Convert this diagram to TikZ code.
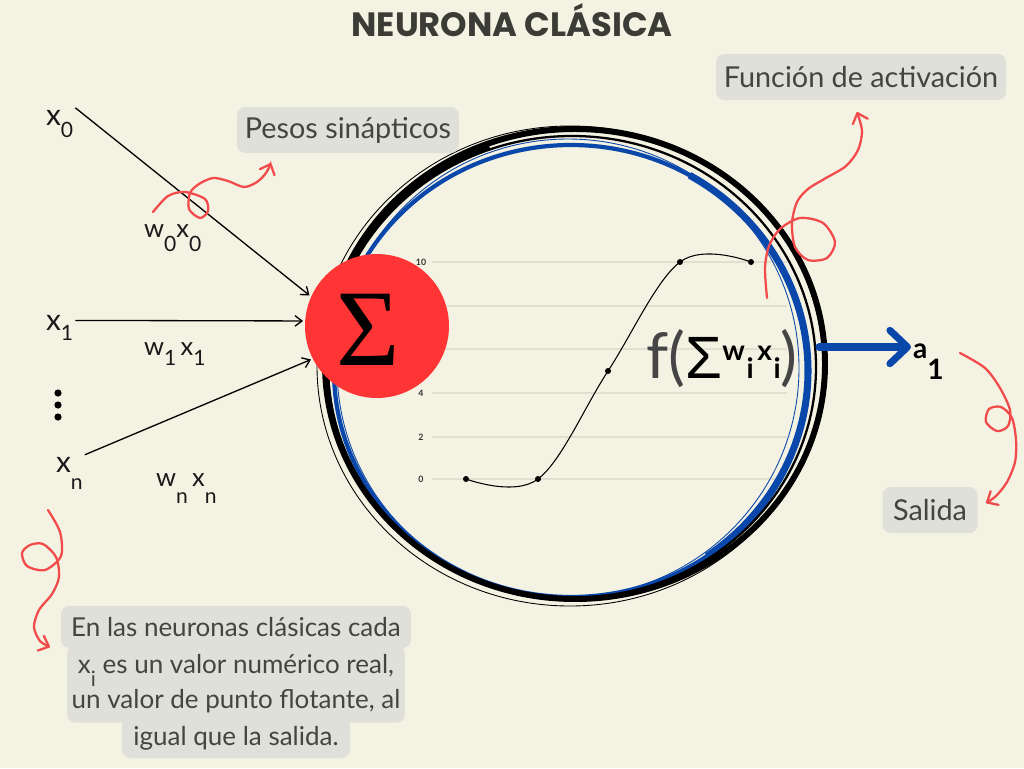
\documentclass[tikz,border=0pt]{standalone}
\usepackage{fontspec}
\setmainfont{Lato}
\newfontfamily\titlefont{Poppins}
\newfontfamily\sigmafont{Liberation Serif}
\newfontfamily\sumfont{Liberation Sans}
\usetikzlibrary{arrows.meta}
\definecolor{paper}{HTML}{F4F3E3}
\definecolor{tagfill}{HTML}{E0E0DA}
\definecolor{tagtext}{HTML}{45453F}
\definecolor{titlec}{HTML}{3C3C36}
\definecolor{squig}{HTML}{F24B4B}
\definecolor{sumred}{HTML}{FF3535}
\definecolor{ringblue}{HTML}{0A47AA}
\definecolor{gridc}{HTML}{E2DFD0}
\definecolor{fgray}{HTML}{454545}
% indice rebajado: base, indice, descenso
\newcommand\sublow[3]{#1\raisebox{-#3}{\fontsize{12}{12}\selectfont #2}}
\tikzset{
  tag/.style={fill=tagfill, rounded corners=0.16cm, text=tagtext, inner sep=0pt,
    font=\fontsize{16.4}{20}\selectfont, minimum height=0.92cm},
  notebox/.style={tag, align=center, font=\fontsize{14.8}{19}\selectfont},
  inarrow/.style={-{Straight Barb[length=4pt,width=6pt]}, line width=0.75pt, shorten >=1pt},
  squiggle/.style={draw=squig, line width=1.3pt, line cap=round,
    -{Straight Barb[round,length=5pt,width=9pt]}},
  gridline/.style={draw=gridc, line width=0.6pt},
  tick/.style={font=\fontsize{5}{5}\selectfont\bfseries, text=black!80},
  inlabel/.style={font=\fontsize{17}{17}\selectfont, text=black!90, inner sep=1pt, anchor=base west},
  wlabel/.style={font=\fontsize{14.5}{14.5}\selectfont, text=black!90, inner sep=1pt, anchor=base west}
}
\begin{document}
\begin{tikzpicture}[x=0.02cm, y=-0.02cm]
  \useasboundingbox[fill=paper] (0,0) rectangle (1024,768);
  % titulo
  \node[font=\titlefont\bfseries\fontsize{19.2}{21}\selectfont, text=titlec] (title) at (512,20) {NEURONA CLÁSICA};

  % grafica de la funcion de activacion
  \foreach \gy in {262,306,349,393,437,479} \draw[gridline] (432,\gy) -- (787,\gy);
  \foreach \gy/\gt in {262/10,393/4,437/2,479/0} \node[tick] at (421,\gy) {\gt};
  \draw[line width=0.6pt] plot[smooth, tension=0.6] coordinates {(466,479) (538,479) (608,371) (680,262) (751,262)};
  \foreach \p in {(466,479),(538,479),(608,371),(680,262),(751,262)} \fill \p circle[radius=3];

  % anillo de la neurona, trazo a mano
  \draw[ringblue, line width=2.4pt] (571,371) ellipse [x radius=237, y radius=226];
  \draw[ringblue, line width=0.5pt] (568,368) ellipse [x radius=231, y radius=229];
  \draw[ringblue, line width=4pt] (571,371) ++(-60:237 and 226) arc [start angle=-60, end angle=55, x radius=237, y radius=226];
  \draw[line width=3.4pt] (575,364) ellipse [x radius=250, y radius=235];
  \draw[line width=1.3pt] (572,367) ellipse [x radius=244, y radius=231];
  \draw[line width=0.5pt] (570,366) ellipse [x radius=253, y radius=240];
  \draw[line width=2.5pt] (574,366) ++(150:247 and 233) arc [start angle=150, end angle=250, x radius=247, y radius=233];
  \coordinate (ringE) at (819,347);

  % sumatorio
  \node[circle, fill=sumred, minimum size=2.88cm, inner sep=0pt] (sum) at (377,326) {};
  \node[font=\sigmafont\fontsize{62}{62}\selectfont] (sigma) at (368,330) {Σ};

  % entradas
  \node[inlabel] (x0) at (44,125) {\sublow{x}{0}{7pt}};
  \node[inlabel] (x1) at (44,330) {\sublow{x}{1}{6pt}};
  \node[inlabel] (xn) at (54,472) {\sublow{x}{n}{10pt}};
  \foreach \dy in {393,405,417} \fill (58,\dy) circle[radius=3.6];
  \draw[inarrow] (x0.north east) -- (sum.156);
  \draw[inarrow] (x1.25) -- (sum.176);
  \draw[inarrow] (xn.north east) -- (sum.207);
  \node[wlabel] (w0) at (142,237) {\sublow{w}{0}{8pt}\sublow{x}{0}{8pt}};
  \node[wlabel] (w1) at (142,355) {\sublow{w}{1}{6pt}\,\sublow{x}{1}{6pt}};
  \node[wlabel] (wn) at (154,486) {\sublow{w}{n}{10pt}\,\sublow{x}{n}{10pt}};

  % funcion y salida
  \node[anchor=base west, inner sep=0pt] (fsum) at (646,378) {{\color{fgray}\fontsize{36}{36}\selectfont f(}{\sumfont\fontsize{34}{34}\selectfont Σ}{\bfseries\fontsize{16}{16}\selectfont\raisebox{0.62em}{w}\kern1pt i\kern2pt\raisebox{0.62em}{x}\kern1pt i}{\color{fgray}\fontsize{36}{36}\selectfont)}};
  \node[anchor=base west, inner sep=1pt, font=\bfseries\fontsize{16}{16}\selectfont] (a1) at (911,358) {a\raisebox{-0.78em}{1}};
  \draw[ringblue, line width=4pt, line cap=round, -{Straight Barb[round,length=10pt,width=19pt]}] (ringE) -- (ringE -| a1.west);

  % etiquetas
  \node[tag, minimum width=4.44cm] (pesos) at (348,130) {Pesos sinápticos};
  \node[tag, minimum width=5.8cm] (activ) at (861,77) {Función de activación};
  \node[tag, minimum width=1.9cm] (salida) at (930,510) {Salida};
  \node[notebox, minimum width=6.76cm, minimum height=1.54cm] (note2) at (236,684) {\sublow{x}{i}{7pt} es un valor numérico real,\\[1pt] un valor de punto flotante, al};
  \node[notebox, minimum width=4.56cm, minimum height=0.8cm] (note3) at (236,738) {igual que la salida.};
  \node[notebox, minimum width=7.0cm, minimum height=0.84cm] (note1) at (236,627) {En las neuronas clásicas cada};

  % flechas rojas a mano
  \draw[squiggle] plot[smooth] coordinates {(153,212) (168,196) (185,192) (205,199) (208,211) (200,218) (189,209) (190,193) (199,184) (213,178) (228,181) (244,187) (257,182) (266,173) (271,163)};
  \draw[squiggle] plot[smooth] coordinates {(767,298) (765,268) (769,246) (780,229) (800,218) (823,223) (835,242) (827,258) (808,260) (795,247) (792,223) (797,202) (808,189) (826,178) (846,166) (858,150) (862,131) (857,112)};
  \draw[squiggle] plot[smooth] coordinates {(960,353) (985,368) (1000,388) (1010,410) (1008,426) (997,431) (986,422) (989,409) (1001,407) (1012,418) (1016,440) (1015,462) (1007,482) (996,496) (986,503)};
  \draw[squiggle] plot[smooth] coordinates {(48,510) (60,532) (61,556) (45,570) (27,566) (22,553) (30,545) (43,544) (56,557) (59,577) (52,594) (39,610) (34,627) (40,641) (50,647)};
\end{tikzpicture}
\end{document}
